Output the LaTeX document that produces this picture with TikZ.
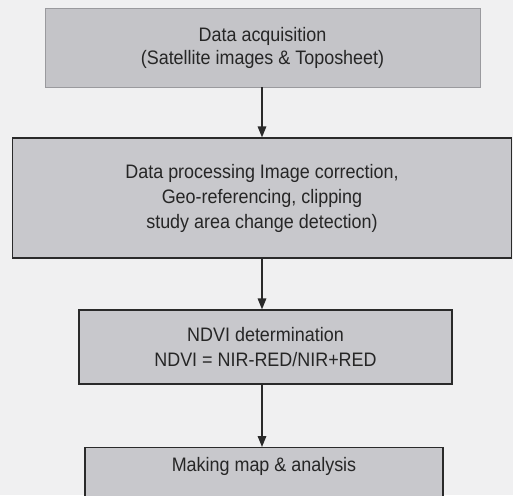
\documentclass[tikz,border=0pt]{standalone}
\usepackage{fontspec}
\setmainfont[FakeStretch=0.92]{Liberation Sans}
\usetikzlibrary{arrows.meta}
\definecolor{bgcol}{HTML}{F0F0F1}
\definecolor{boxfill}{HTML}{C8C8CC}
\definecolor{boxfilla}{HTML}{C4C4C8}
\definecolor{txtcol}{HTML}{262626}
\definecolor{edgecol}{HTML}{2A2A2A}
\definecolor{softedge}{HTML}{9A9A9E}
\tikzset{
  flowbox/.style={rectangle, fill=boxfill, draw=edgecol, line width=1.2pt,
    text=txtcol, align=center, inner sep=0pt,
    font=\fontsize{19.5}{25}\selectfont},
  softbox/.style={flowbox, fill=boxfilla, draw=softedge, line width=0.8pt,
    font=\fontsize{19.5}{23}\selectfont},
  flowarrow/.style={draw=edgecol, line width=1.6pt,
    -{Triangle[width=8.5pt,length=11pt]}}
}
\begin{document}
\begin{tikzpicture}[x=1pt,y=-1pt]
  \useasboundingbox (0,0) rectangle (513,495);
  \clip (0,0) rectangle (513,495);
  \fill[bgcol] (0,0) rectangle (513,495);

  \node[softbox, minimum width=435pt, minimum height=79pt] (b1) at (262.5,47.5)
    {Data acquisition\\(Satellite images \& Toposheet)};
  \node[flowbox, minimum width=499pt, minimum height=120pt] (b2) at (262,198)
    {Data processing Image correction,\\Geo-referencing, clipping\\study area change detection)};
  \node[flowbox, minimum width=373pt, minimum height=74pt] (b3) at (265.5,347)
    {NDVI determination\\NDVI = NIR-RED/NIR+RED};
  \node[flowbox, anchor=north, minimum width=358pt, text height=24pt, text depth=46pt] (b4) at (264,447)
    {Making map \& analysis};

  \coordinate (ax) at (262,0);
  \draw[flowarrow] (b1.south -| ax) -- (b2.north -| ax);
  \draw[flowarrow] (b2.south -| ax) -- (b3.north -| ax);
  \draw[flowarrow] (b3.south -| ax) -- (b4.north -| ax);
\end{tikzpicture}
\end{document}
